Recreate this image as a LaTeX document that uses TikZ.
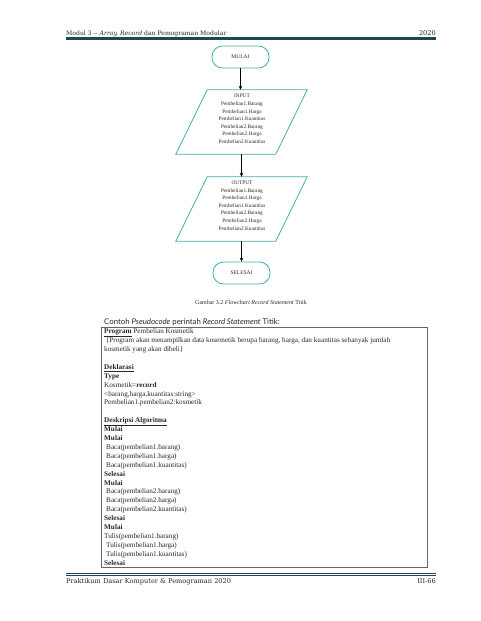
\documentclass[tikz,border=0pt]{standalone}
\usepackage{fontspec}
\setmainfont{Liberation Serif}
\newfontfamily\hdrfont{DejaVu Serif}
\newfontfamily\gillfont{Lato}
\usetikzlibrary{arrows.meta,calc}
\definecolor{flow}{RGB}{72,172,176}
\definecolor{rulecol}{RGB}{30,70,85}
\definecolor{txt}{RGB}{40,40,40}
\begin{document}
\begin{tikzpicture}[x=1pt,y=-1pt,
  term/.style={draw=flow, line width=0.8pt, rounded corners=10.5pt, minimum width=57pt, minimum height=22pt, inner sep=0pt, font=\fontsize{5.5}{6.5}\selectfont, text=txt},
  ioshape/.style={minimum width=131pt, minimum height=64pt, inner sep=0pt},
  iotext/.style={inner sep=0pt, align=center, font=\fontsize{5.3}{7.6}\selectfont, text=txt},
  iodraw/.style={draw=flow, line width=0.8pt},
  flowline/.style={-{Stealth[length=4pt,width=3.5pt]}, line width=0.6pt},
  hdr/.style={inner sep=0pt, font=\hdrfont\fontsize{6.6}{7}\selectfont, text=txt},
  rulethick/.style={draw=rulecol, line width=1.7pt},
  rulethin/.style={draw=rulecol, line width=0.5pt}
]
\useasboundingbox (0,0) rectangle (480,621);
\fill[white] (0,0) rectangle (480,621);

% header
\node[hdr, anchor=base west, font=\hdrfont\fontsize{6.1}{7}\selectfont] (hdrl) at (66,35) {Modul 3 -- \textit{Array, Record} dan Pemograman Modular};
\node[hdr, anchor=base east] (hdrr) at (436,35) {2020};
\coordinate (hl1) at (66,37.4); \coordinate (hr1) at (436,37.4);
\coordinate (hl2) at (66,39); \coordinate (hr2) at (436,39);
\draw[rulethin] (hl1) -- (hr1);
\draw[rulethick] (hl2) -- (hr2);

% flowchart
\node[term] (mulai) at (240.5,57) {MULAI};
\node[ioshape] (inshape) at (241.5,122) {};
\draw[iodraw] (inshape.south west) -- ++(100,0) -- (inshape.north east) -- ++(-100,0) -- cycle;
\node[iotext] (intext) at (242,119) {INPUT\\Pembelian1.Barang\\Pembelian1.Harga\\Pembelian1.Kuantitas\\Pembelian2.Barang\\Pembelian2.Harga\\Pembelian2.Kuantitas};
\node[ioshape] (outshape) at (241.5,209) {};
\draw[iodraw] (outshape.south west) -- ++(100,0) -- (outshape.north east) -- ++(-100,0) -- cycle;
\node[iotext] (outtext) at (242,205.5) {OUTPUT\\Pembelian1.Barang\\Pembelian1.Harga\\Pembelian1.Kuantitas\\Pembelian2.Barang\\Pembelian2.Harga\\Pembelian2.Kuantitas};
\node[term] (selesai) at (241.5,273) {SELESAI};

\draw[flowline] (mulai.south) -- (mulai.south |- inshape.north);
\draw[flowline] (inshape.south) -- (outshape.north);
\draw[flowline] (outshape.south) -- (selesai.north);

% caption
\node[inner sep=0pt, font=\fontsize{6}{7}\selectfont, text=txt] (cap) at (251,302) {Gambar 3.2 \textit{Flowchart Record Statement} Titik};

\node[anchor=base west, inner sep=0pt, font=\gillfont\fontsize{7.8}{9}\selectfont, text=txt] (contoh) at (104,324.5) {Contoh \textit{Pseudocode} perintah \textit{Record Statement} Titik:};

% pseudocode box
\node[draw=gray!80!black, line width=0.5pt, minimum width=326pt, minimum height=240pt, anchor=north west, inner sep=0pt] (box) at (101,327) {};
\node[anchor=north west, inner sep=0pt, align=left, font=\fontsize{7.2}{8.9}\selectfont, text=txt] (code) at (104,328.5) {%
\underline{\textbf{Program}} Pembelian Kosmetik\\
\ \{Program akan menampilkan data kosemetik berupa barang, harga, dan kuantitas sebanyak jumlah\\
kosmetik yang akan dibeli\}\\[8.9pt]
\underline{\textbf{Deklarasi}}\\
\textbf{Type}\\
Kosmetik=\textbf{record}\\
<barang,harga,kuantitas:string>\\
Pembelian1.pembelian2:kosmetik\\[8.9pt]
\underline{\textbf{Deskripsi Algoritma}}\\
\textbf{Mulai}\\
\textbf{Mulai}\\
\hspace*{2pt}Baca(pembelian1.barang)\\
\hspace*{2pt}Baca(pembelian1.harga)\\
\hspace*{2pt}Baca(pembelian1.kuantitas)\\
\textbf{Selesai}\\
\textbf{Mulai}\\
\hspace*{2pt}Baca(pembelian2.barang)\\
\hspace*{2pt}Baca(pembelian2.harga)\\
\hspace*{2pt}Baca(pembelian2.kuantitas)\\
\textbf{Selesai}\\
\textbf{Mulai}\\
Tulis(pembelian1.barang)\\
\hspace*{2pt}Tulis(pembelian1.harga)\\
\hspace*{2pt}Tulis(pembelian1.kuantitas)\\
\textbf{Selesai}};

% footer
\coordinate (fl1) at (66,573.4); \coordinate (fr1) at (436,573.4);
\coordinate (fl2) at (66,575.2); \coordinate (fr2) at (436,575.2);
\draw[rulethick] (fl1) -- (fr1);
\draw[rulethin] (fl2) -- (fr2);
\node[hdr, anchor=base west] (ftl) at (66,583) {Praktikum Dasar Komputer \& Pemograman 2020};
\node[hdr, anchor=base east] (ftr) at (436,583) {III-66};
\end{tikzpicture}
\end{document}
